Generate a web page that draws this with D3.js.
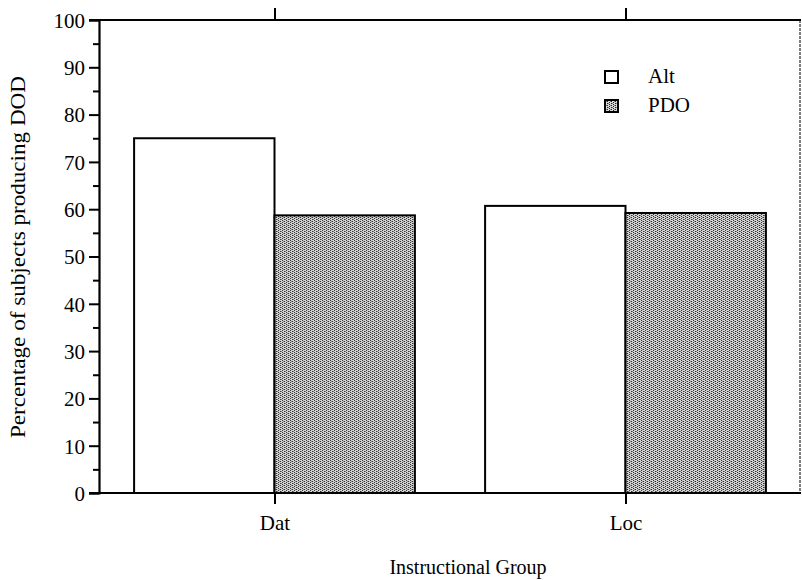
<!DOCTYPE html>
<html><head><meta charset="utf-8">
<script src="https://cdn.jsdelivr.net/npm/d3@7"></script>
<style>body{margin:0;background:#fff}svg{display:block}text{fill:#000}</style>
</head><body><svg id="c" width="802" height="580"></svg>
<script>
const groups = ["Dat", "Loc"];
const seriesNames = ["Alt", "PDO"];
const altValues = [75, 60.7];
const pdoValues = [58.7, 59.2];
const yMajorTicks = [0,10,20,30,40,50,60,70,80,90,100];
const yMinorTicks = [5,15,25,35,45,55,65,75,85,95];
const xTitle = "Instructional Group";
const yTitle = "Percentage of subjects producing DOD";

const FONT = "Liberation Serif, Tinos, Times New Roman, Times, DejaVu Serif, serif";
const svg = d3.select("#c").style("font-family", FONT);
const m = {l:99, r:801, t:20, b:493};
const defs = svg.append("defs");
const pat = defs.append("pattern").attr("id","stip").attr("patternUnits","userSpaceOnUse").attr("width",4).attr("height",4);
pat.append("rect").attr("width",4).attr("height",4).attr("fill","#d8d8d8");
[[0,0],[2,1],[0,2],[2,3],[1,1],[3,3]].forEach(([x,y],i)=>pat.append("rect").attr("x",x).attr("y",y).attr("width",1).attr("height",1).attr("fill", i<4?"#222":"#888"));

const x0 = d3.scaleBand().domain(groups).range([m.l, m.r]).paddingInner(0.2).paddingOuter(0.1);
const x1 = d3.scaleBand().domain(seriesNames).range([0, x0.bandwidth()]);
const y = d3.scaleLinear().domain([0,100]).range([m.b, m.t]);

const data = groups.map((g,i)=>({g, vals:[{s:"Alt",v:altValues[i]},{s:"PDO",v:pdoValues[i]}]}));
const fills = {Alt:"#fff", PDO:"url(#stip)"};

const gG = svg.append("g").selectAll("g").data(data).join("g").attr("transform",d=>`translate(${x0(d.g)},0)`);
gG.selectAll("rect").data(d=>d.vals).join("rect")
  .attr("x",d=>x1(d.s)).attr("y",d=>y(d.v))
  .attr("width",x1.bandwidth()).attr("height",d=>y(0)-y(d.v))
  .attr("fill",d=>fills[d.s]).attr("stroke","#000").attr("stroke-width",2);

// right frame
svg.append("line").attr("x1",m.r-1).attr("x2",m.r-1).attr("y1",m.t).attr("y2",m.b).attr("stroke","#555").attr("stroke-width",1.5).attr("stroke-dasharray","3,1");

const yAxis = svg.append("g").attr("transform",`translate(${m.l},0)`)
  .call(d3.axisLeft(y).tickValues(yMajorTicks).tickSize(10).tickPadding(4).tickFormat(d3.format("d")));
yAxis.attr("font-family",null).attr("font-size",21);
yAxis.selectAll("text").attr("dy","0.35em");
const yMinor = svg.append("g").attr("transform",`translate(${m.l},0)`)
  .call(d3.axisLeft(y).tickValues(yMinorTicks).tickSize(6).tickFormat(""));
yMinor.select(".domain").remove();

const xc = g => x0(g) + x0.bandwidth()/2;
const xPos = d3.scalePoint().domain(groups).range([xc(groups[0]), xc(groups[1])]);
const xAxis = svg.append("g").attr("transform",`translate(0,${m.b})`)
  .call(d3.axisBottom(xPos).tickSize(11).tickPadding(11).tickSizeOuter(0));
xAxis.attr("font-family",null).attr("font-size",21);
xAxis.select(".domain").attr("d",`M${m.l-10},0H${m.r}`);
const xTop = svg.append("g").attr("transform",`translate(0,${m.t})`)
  .call(d3.axisTop(xPos).tickSize(12).tickFormat("").tickSizeOuter(0));
xTop.select(".domain").attr("d",`M${m.l-10},0H${m.r}`);

svg.selectAll(".domain").attr("stroke","#000").attr("stroke-width",2.2);
svg.selectAll(".tick line").attr("stroke","#000").attr("stroke-width",2);

// titles
svg.append("text").attr("x",468).attr("y",574).attr("text-anchor","middle").attr("font-size",20).text(xTitle);
svg.append("text").attr("transform","translate(25,257) rotate(-90)").attr("text-anchor","middle").attr("font-size",20)
  .attr("textLength",362).attr("lengthAdjust","spacingAndGlyphs").text(yTitle);

// legend
const leg = svg.append("g").selectAll("g").data(seriesNames).join("g").attr("transform",(d,i)=>`translate(605,${71+i*29})`);
leg.append("rect").attr("width",13).attr("height",12).attr("fill",d=>fills[d]).attr("stroke","#000").attr("stroke-width",2);
leg.append("text").attr("x",43).attr("y",12).attr("font-size",21).text(d=>d);
</script></body></html>
